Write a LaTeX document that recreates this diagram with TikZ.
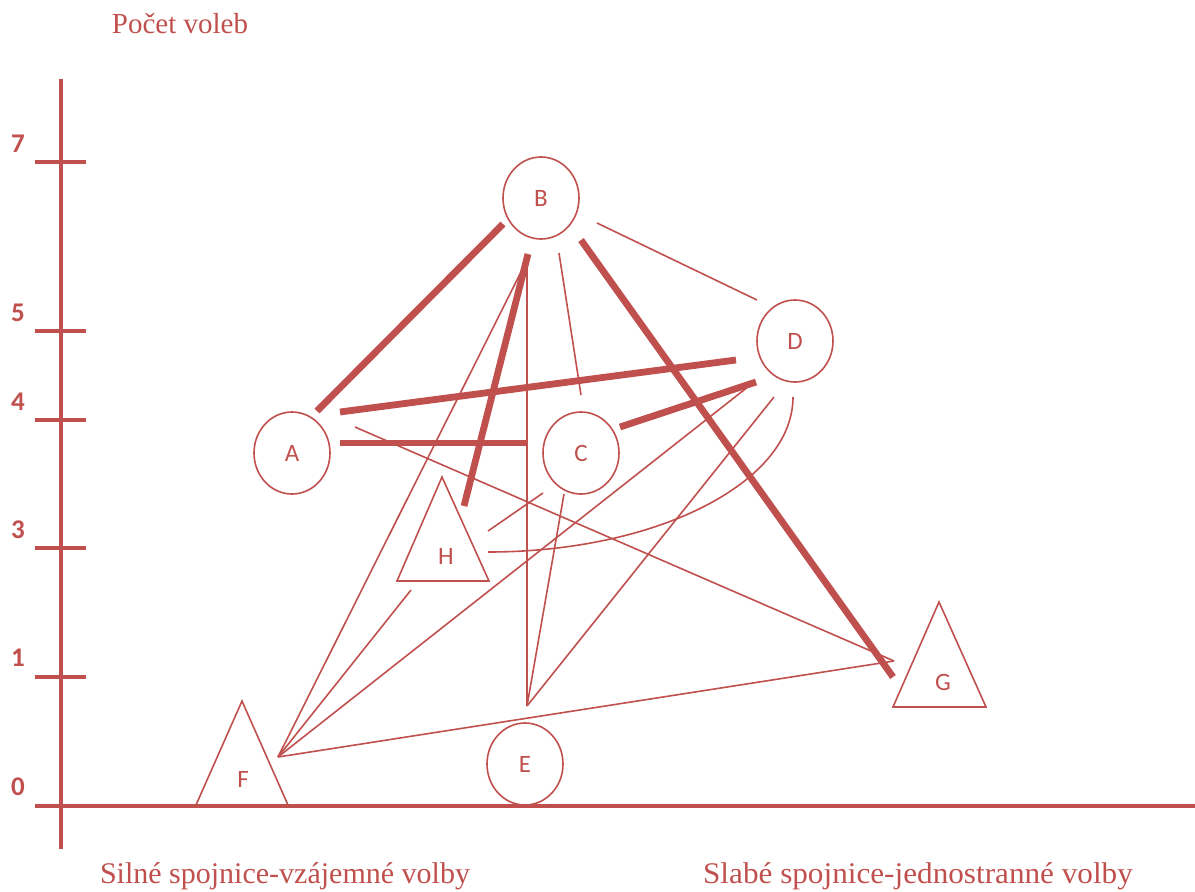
\documentclass[tikz,border=0pt]{standalone}
\usepackage{fontspec}
\setmainfont{Liberation Serif}
\newfontfamily\lab{Carlito}
\usetikzlibrary{shapes.geometric}
\definecolor{redtwo}{HTML}{C0504D}
\begin{document}
\begin{tikzpicture}[x=1pt,y=-1pt,
  every node/.style={text=redtwo},
  circ/.style={draw=redtwo, ellipse, line width=1.6pt, minimum width=76pt, minimum height=82pt, inner sep=0pt, font=\lab\fontsize{25}{25}\selectfont},
  trilabel/.style={font=\lab\fontsize{25}{25}\selectfont, inner sep=0pt},
  tri/.style={draw=redtwo, line width=1.6pt, line join=miter},
  strong/.style={draw=redtwo, line width=6.8pt},
  weak/.style={draw=redtwo, line width=1.6pt},
  axisline/.style={draw=redtwo, line width=3.5pt},
  ticklabel/.style={font=\lab\bfseries\fontsize{27}{27}\selectfont, inner sep=0pt},
  caption/.style={font=\fontsize{30}{30}\selectfont, anchor=base, inner sep=0pt}
]
\useasboundingbox (0,0) rectangle (1195,892);

% axes
\coordinate (ytop) at (61,79);
\coordinate (ybot) at (61,849);
\coordinate (xl) at (35,806);
\coordinate (xr) at (1195,806);
\draw[axisline] (ytop) -- (ybot);
\draw[axisline] (xl) -- (xr);
\foreach \yy/\lbl/\ly in {162/7/144, 331/5/313, 420/4/402, 548/3/530, 677/1/658}{
  \coordinate (tl\lbl) at (35,\yy);
  \coordinate (tr\lbl) at (86,\yy);
  \draw[axisline] (tl\lbl) -- (tr\lbl);
  \node[ticklabel] (lab\lbl) at (18,\ly) {\lbl};
}
\node[ticklabel] (lab0) at (18,787) {0};

% captions
\node[caption, font=\fontsize{29}{29}\selectfont] (title) at (180,33) {Počet voleb};
\node[caption] (strongcap) at (285,883) {Silné spojnice-vzájemné volby};
\node[caption, xscale=1.04] (weakcap) at (918,883) {Slabé spojnice-jednostranné volby};

% circle nodes
\node[circ] (A) at (292,453) {A};
\node[circ] (B) at (541,198) {B};
\node[circ] (C) at (581,453) {C};
\node[circ] (D) at (795,341) {D};
\node[circ] (E) at (525,764) {E};

% triangle nodes
\coordinate (Ft) at (242,701); \coordinate (Fl) at (196,805); \coordinate (Fr) at (288,805);
\draw[tri] (Ft) -- (Fl) -- (Fr) -- cycle;
\node[trilabel] (F) at (243,779) {F};
\coordinate (Ht) at (442,477); \coordinate (Hl) at (397,581); \coordinate (Hr) at (489,581);
\draw[tri] (Ht) -- (Hl) -- (Hr) -- cycle;
\node[trilabel] (H) at (446,556) {H};
\coordinate (Gt) at (939,602); \coordinate (Gl) at (893,707); \coordinate (Gr) at (986,707);
\draw[tri] (Gt) -- (Gl) -- (Gr) -- cycle;
\node[trilabel] (G) at (943,682) {G};

% connector end points
\coordinate (BtoA) at (503,224);  \coordinate (AtoB) at (317,411);
\coordinate (AtoD) at (340,412);  \coordinate (DtoA) at (736,360);
\coordinate (AtoC) at (340,443);  \coordinate (CtoA) at (528,443);
\coordinate (BtoH) at (528,254);  \coordinate (HtoB) at (464,506);
\coordinate (CtoD) at (620,427);  \coordinate (DtoC) at (756,382);
\coordinate (BtoG) at (581,240);  \coordinate (GtoB) at (893,677);
\coordinate (BtoD) at (597,223);  \coordinate (DfromB) at (757,300);
\coordinate (BtoC) at (559,253);  \coordinate (CfromB) at (581,395);
\coordinate (BtoE) at (527,255);  \coordinate (Ein) at (527,706);
\coordinate (CtoE) at (564,494);
\coordinate (DtoE) at (774,397);
\coordinate (BtoF) at (526,262);  \coordinate (Fin) at (278,757);
\coordinate (HtoF) at (411,590);
\coordinate (DtoF) at (749,386);
\coordinate (Gin) at (894,661);
\coordinate (AtoG) at (355,427);
\coordinate (HtoC) at (488,531);  \coordinate (CfromH) at (543,493);
\coordinate (DtoH) at (793,397);  \coordinate (HfromD) at (488,552);

% strong (mutual) connectors
\draw[strong] (BtoA) -- (AtoB);
\draw[strong] (AtoD) -- (DtoA);
\draw[strong] (AtoC) -- (CtoA);
\draw[strong] (BtoH) -- (HtoB);
\draw[strong] (CtoD) -- (DtoC);
\draw[strong] (BtoG) -- (GtoB);

% weak (one-sided) connectors
\draw[weak] (BtoD) -- (DfromB);
\draw[weak] (BtoC) -- (CfromB);
\draw[weak] (BtoE) -- (Ein);
\draw[weak] (CtoE) -- (Ein);
\draw[weak] (DtoE) -- (Ein);
\draw[weak] (BtoF) -- (Fin);
\draw[weak] (HtoF) -- (Fin);
\draw[weak] (DtoF) -- (Fin);
\draw[weak] (Fin) -- (Gin);
\draw[weak] (AtoG) -- (Gin);
\draw[weak] (HtoC) -- (CfromH);
\draw[weak] (DtoH) .. controls (793,483) and (656,552) .. (HfromD);
\end{tikzpicture}
\end{document}
